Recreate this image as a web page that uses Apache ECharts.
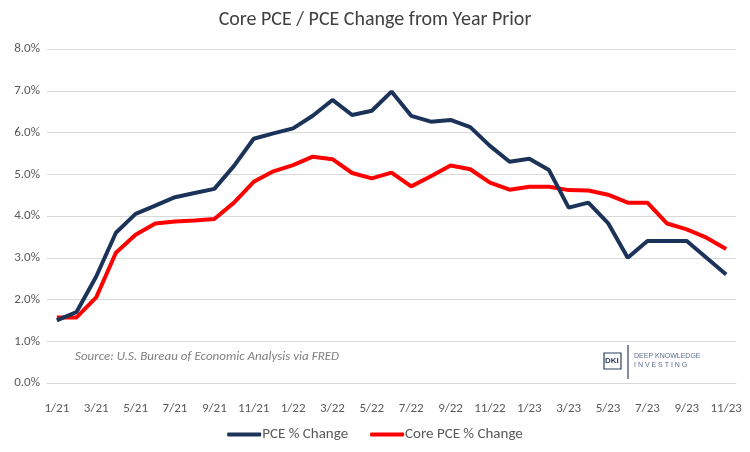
<!DOCTYPE html>
<html><head><meta charset="utf-8">
<script src="https://cdn.jsdelivr.net/npm/echarts@6/dist/echarts.min.js"></script>
<style>html,body{margin:0;padding:0;background:#fff}#c{width:750px;height:452px}</style>
</head><body><div id="c"></div>
<script>
const months = ['1/21','2/21','3/21','4/21','5/21','6/21','7/21','8/21','9/21','10/21','11/21','12/21',
'1/22','2/22','3/22','4/22','5/22','6/22','7/22','8/22','9/22','10/22','11/22','12/22',
'1/23','2/23','3/23','4/23','5/23','6/23','7/23','8/23','9/23','10/23','11/23'];
const pce = [1.5,1.7,2.55,3.6,4.05,4.25,4.45,4.55,4.65,5.2,5.85,5.98,
6.1,6.4,6.78,6.42,6.52,6.98,6.4,6.26,6.3,6.13,5.68,5.3,
5.37,5.1,4.2,4.32,3.83,3.0,3.4,3.4,3.4,3.0,2.6];
const core = [1.57,1.57,2.05,3.12,3.55,3.82,3.87,3.89,3.93,4.32,4.82,5.07,
5.22,5.42,5.36,5.03,4.9,5.04,4.71,4.95,5.21,5.12,4.8,4.63,
4.7,4.7,4.62,4.61,4.51,4.32,4.32,3.82,3.68,3.48,3.21];
const FONT = 'Carlito, "Liberation Sans Narrow", Lato, sans-serif';
const chart = echarts.init(document.getElementById('c'));
chart.setOption({
  animation:false,
  title:{text:'Core PCE / PCE Change from Year Prior',left:'center',top:5,
    textStyle:{fontFamily:FONT,fontSize:20,fontWeight:'normal',color:'#404040'}},
  grid:{left:47,right:14,top:49,bottom:69},
  legend:{bottom:5,left:'center',itemWidth:34,itemHeight:4,itemGap:22,
    icon:'roundRect',
    textStyle:{fontFamily:FONT,fontSize:15,color:'#595959',padding:[0,0,0,-4]},
    data:['PCE % Change','Core PCE % Change']},
  xAxis:{type:'category',data:months,boundaryGap:true,
    axisLine:{lineStyle:{color:'#d9d9d9'}},
    axisTick:{interval:1,length:6,lineStyle:{color:'#d9d9d9'}},
    axisLabel:{interval:1,color:'#595959',fontFamily:FONT,fontSize:13,margin:19}},
  yAxis:{type:'value',min:0,max:8,interval:1,
    axisLabel:{formatter:v=>v.toFixed(1)+'%',color:'#595959',fontFamily:FONT,fontSize:13,margin:7},
    splitLine:{lineStyle:{color:'#d9d9d9'}},axisLine:{show:false},axisTick:{show:false}},
  series:[
    {name:'PCE % Change',type:'line',data:pce,symbol:'none',z:3,
      lineStyle:{color:'#1c3359',width:4},itemStyle:{color:'#1c3359'}},
    {name:'Core PCE % Change',type:'line',data:core,symbol:'none',z:2,
      lineStyle:{color:'#ff0000',width:4},itemStyle:{color:'#ff0000'}}
  ],
  graphic:[
    {type:'text',left:75,top:350,style:{text:'Source: U.S. Bureau of Economic Analysis via FRED',
      fill:'#7f7f7f',font:'italic 13px '+FONT}},
    {type:'rect',shape:{x:604,y:353,width:17,height:16},style:{fill:'#fff',stroke:'#2c3e5e',lineWidth:1.2}},
    {type:'text',x:605,y:357,style:{text:'DKI',fill:'#2c3e5e',font:'bold 8px sans-serif'}},
    {type:'line',shape:{x1:628,y1:345,x2:628,y2:379},style:{stroke:'#2c3e5e',lineWidth:1.2}},
    {type:'text',x:634,y:353,style:{text:'DEEP KNOWLEDGE',fill:'#5a6b8a',font:'7px sans-serif'}},
    {type:'text',x:634,y:362,style:{text:'I N V E S T I N G',fill:'#5a6b8a',font:'7px sans-serif'}}
  ]
});
</script></body></html>
